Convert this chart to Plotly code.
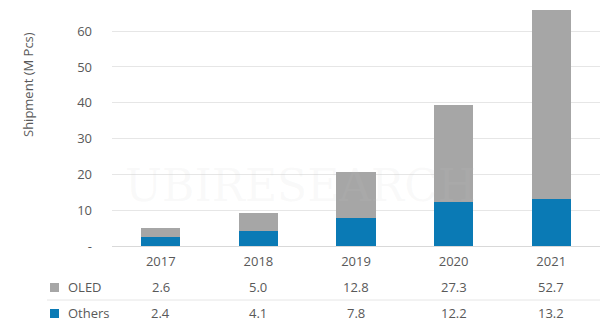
import plotly.graph_objects as go

years = ["2017", "2018", "2019", "2020", "2021"]
oled = [2.6, 5.0, 12.8, 27.3, 52.7]
others = [2.4, 4.1, 7.8, 12.2, 13.2]
y_ticks = [0, 10, 20, 30, 40, 50, 60, 70]
y_ticktext = ["-", "10", "20", "30", "40", "50", "60", "70"]

BLUE = "#0a7ab5"
GRAY = "#a6a6a6"
TXT = "#595959"
FONT = "Open Sans"

fig = go.Figure()
fig.add_trace(go.Bar(x=years, y=others, name="Others", marker_color=BLUE, marker_line_width=0))
fig.add_trace(go.Bar(x=years, y=oled, name="OLED", marker_color=GRAY, marker_line_width=0))

fig.update_layout(
    width=600, height=321,
    margin=dict(l=112, r=0, t=0, b=75),
    barmode="stack", bargap=0.6,
    showlegend=False,
    plot_bgcolor="white", paper_bgcolor="white",
    font=dict(family=FONT, size=13, color=TXT),
)
fig.update_xaxes(type="category", range=[-0.5, len(years) - 0.5], autorange=False,
                 showgrid=False, zeroline=False,
                 showline=True, linecolor="#d9d9d9", linewidth=1, ticks="",
                 tickfont=dict(size=13, color=TXT), ticklabelstandoff=3)
fig.update_yaxes(range=[0, 68.7], tickvals=y_ticks, ticktext=y_ticktext,
                 showline=False, ticks="",
                 showgrid=True, gridcolor="#e6e6e6", gridwidth=1, zeroline=False,
                 tickfont=dict(size=13, color=TXT), ticklabelstandoff=19)

ann = []
# y-axis title
ann.append(dict(text="Shipment (M Pcs)", xref="paper", yref="paper", x=-112/488 + 28/488, y=1 - 85/246,
                textangle=-90, showarrow=False, font=dict(size=13, color=TXT),
                xanchor="center", yanchor="middle"))
# watermark
ann.append(dict(text="UBIRESEARCH", xref="paper", yref="paper", x=(300-112)/488, y=1 - 185/246,
                showarrow=False, font=dict(size=44, color="rgba(200,200,200,0.10)", family="DejaVu Serif"),
                xanchor="center", yanchor="middle"))

rows = [("OLED", oled, GRAY, 287), ("Others", others, BLUE, 313)]
for label, vals, col, ypx in rows:
    yp = (321 - 75 - ypx) / 246
    ann.append(dict(text=label, xref="paper", yref="paper", x=(66-112)/488, y=yp,
                    showarrow=False, xanchor="left", yanchor="middle",
                    font=dict(size=13, color=TXT)))
    for i, v in enumerate(vals):
        ann.append(dict(text=f"{v:.1f}", xref="x", yref="paper", x=i, y=yp,
                        showarrow=False, xanchor="center", yanchor="middle",
                        font=dict(size=13, color=TXT)))
    fig.add_shape(type="rect", xref="paper", yref="paper",
                  x0=(50-112)/488, x1=(59-112)/488,
                  y0=(246 - ypx - 5)/246, y1=(246 - ypx + 4)/246,
                  fillcolor=col, line_width=0)

fig.add_shape(type="line", xref="paper", yref="paper",
              x0=(47-112)/488, x1=1, y0=(246-300)/246, y1=(246-300)/246,
              line=dict(color="#e6e6e6", width=1))

fig.update_layout(annotations=ann)
fig.write_html("out.html")
